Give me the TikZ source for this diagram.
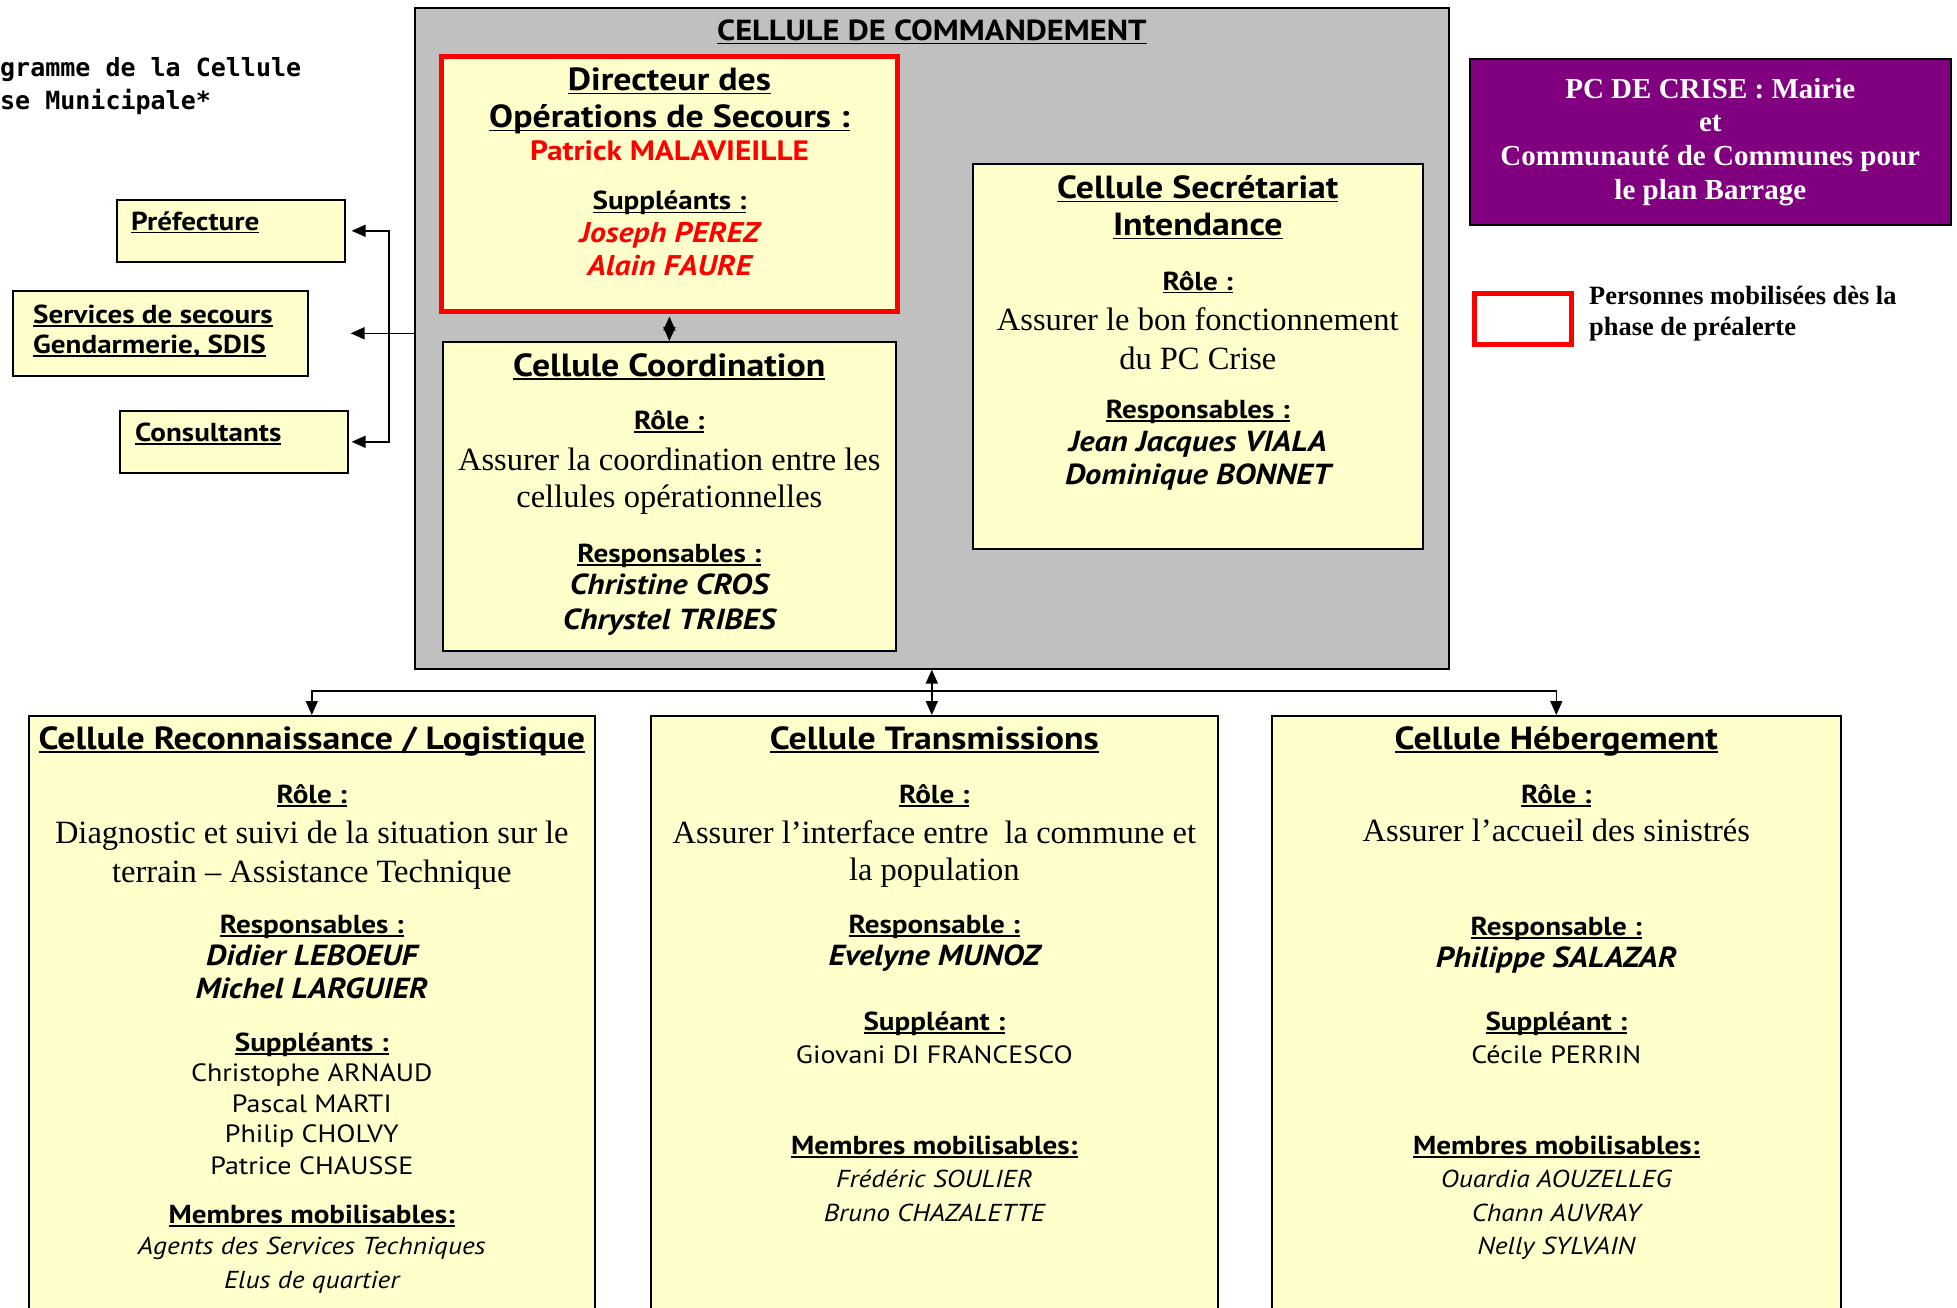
\documentclass[tikz,border=0pt]{standalone}
\usepackage{fontspec}
\setmainfont{Liberation Serif}
\newfontfamily\gill{PT Sans}[FakeStretch=1.12]
\newfontfamily\mono{DejaVu Sans Mono}
\usepackage{xcolor}
\usetikzlibrary{arrows.meta, positioning, calc}
\definecolor{cellyellow}{HTML}{FFFFCC}
\definecolor{cmdgray}{HTML}{C0C0C0}
\definecolor{pcpurple}{HTML}{800080}
\definecolor{dosred}{HTML}{FF0000}
% underline close to the baseline, like the original
\newcommand\ul[1]{\setbox0=\hbox{#1}\rlap{\rule[-3.5pt]{\wd0}{1.9pt}}\box0}
\newcommand\cmdttl[1]{{\gill\bfseries\fontsize{29}{34}\selectfont\ul{#1}}}
\newcommand\ttl[1]{{\gill\bfseries\fontsize{32}{36}\selectfont\ul{#1}}}
\newcommand\hd[1]{{\gill\bfseries\fontsize{26}{30}\selectfont\ul{#1}}}
\newcommand\nm[1]{{\gill\bfseries\itshape\fontsize{29}{32}\selectfont #1}}
\newcommand\pl[1]{{\gill\fontsize{25}{28}\selectfont #1}}
\newcommand\itl[1]{{\gill\itshape\fontsize{24.5}{28}\selectfont #1}}
\newcommand\rl[1]{{\fontsize{32.5}{36}\selectfont #1}}
\newcommand\rd[1]{{\gill\bfseries\fontsize{28}{32}\selectfont\color{dosred}#1}}
\newcommand\rdi[1]{{\gill\bfseries\itshape\fontsize{28.5}{32}\selectfont\color{dosred}#1}}
\begin{document}
\begin{tikzpicture}[x=1pt, y=-1pt,
    box/.style={draw=black, line width=1.6pt, fill=cellyellow, inner sep=0pt, anchor=north west},
    ln/.style={anchor=base, inner sep=0pt},
    arr/.style={-{Triangle[length=14pt,width=12pt]}, line width=1.6pt},
    both/.style={{Triangle[length=14pt,width=12pt]}-{Triangle[length=14pt,width=12pt]}, line width=1.6pt}]
  \useasboundingbox (0,0) rectangle (1957,1308);
  % Title, cut at the left edge
  \node[anchor=base west, inner sep=0pt, font=\mono\bfseries\fontsize{25}{30}\selectfont] (doc1) at (0,77) {gramme de la Cellule};
  \node[anchor=base west, inner sep=0pt, font=\mono\bfseries\fontsize{25}{30}\selectfont] (doc2) at (0,110) {se Municipale*};
  % Cellule de commandement
  \node[box, fill=cmdgray, minimum width=1034, minimum height=661] (cmd) at (414,7) {};
  \node[ln] (cmd-t) at (cmd.north |- 0,41) {\cmdttl{CELLULE DE COMMANDEMENT}};
  % DOS
  \node[box, draw=dosred, line width=5pt, minimum width=456, minimum height=255] (dos) at (439,54) {};
  \foreach \y/\t [count=\i] in {91/{\ttl{Directeur des}}, 128/{\ttl{Opérations de Secours :}},
      161/{\rd{Patrick MALAVIEILLE}}, 210/{\hd{Suppléants :}}, 243/{\rdi{Joseph PEREZ}}, 276/{\rdi{Alain FAURE}}}
    \node[ln] (dos-\i) at (dos.north |- 0,\y) {\t};
  % Coordination
  \node[box, minimum width=453, minimum height=309] (coord) at (442,341) {};
  \foreach \y/\t [count=\i] in {376/{\ttl{Cellule Coordination}}, 429/{\hd{Rôle :}},
      470/{\rl{Assurer la coordination entre les}}, 507/{\rl{cellules opérationnelles}},
      562/{\hd{Responsables :}}, 594/{\nm{Christine CROS}}, 629/{\nm{Chrystel TRIBES}}}
    \node[ln] (coord-\i) at (coord.north |- 0,\y) {\t};
  % Secretariat
  \node[box, minimum width=450, minimum height=385] (secr) at (972,163) {};
  \foreach \y/\t [count=\i] in {199/{\ttl{Cellule Secrétariat}}, 236/{\ttl{Intendance}}, 290/{\hd{Rôle :}},
      330/{\rl{Assurer le bon fonctionnement}}, 369/{\rl{du PC Crise}},
      418/{\hd{Responsables :}}, 451/{\nm{Jean Jacques VIALA}}, 484/{\nm{Dominique BONNET}}}
    \node[ln] (secr-\i) at (secr.north |- 0,\y) {\t};
  % PC de crise and legend
  \node[box, fill=pcpurple, minimum width=481, minimum height=166] (pc) at (1469,58) {};
  \node[align=center, text=white, font=\bfseries\fontsize{29}{33.7}\selectfont] (pc-t) at (pc.center)
    {PC DE CRISE : Mairie\\et\\Communauté de Communes pour\\le plan Barrage};
  \node[box, draw=dosred, line width=5pt, fill=white, minimum width=97, minimum height=51] (leg) at (1472,291) {};
  \node[anchor=base west, inner sep=0pt, font=\bfseries\fontsize{26.4}{30}\selectfont] (leg-1) at (1589,304) {Personnes mobilisées dès la};
  \node[anchor=base west, inner sep=0pt, font=\bfseries\fontsize{26.4}{30}\selectfont] (leg-2) at (1589,335) {phase de préalerte};
  % Outside services
  \node[box, minimum width=228, minimum height=62] (pref) at (116,199) {};
  \node[anchor=base west, inner sep=0pt] (pref-t) at (131,230) {\hd{Préfecture}};
  \node[box, minimum width=295, minimum height=85] (svc) at (12,290) {};
  \node[anchor=base west, inner sep=0pt] (svc-1) at (33,323) {\hd{Services de secours}};
  \node[anchor=base west, inner sep=0pt] (svc-2) at (33,353) {\hd{Gendarmerie, SDIS}};
  \node[box, minimum width=228, minimum height=62] (cons) at (119,410) {};
  \node[anchor=base west, inner sep=0pt] (cons-t) at (135,441) {\hd{Consultants}};
  \coordinate (bus) at (389,333);
  \draw[arr, shorten >=42pt] (cmd.west |- svc.east) -- (svc.east);
  \draw[both, shorten <=6pt, shorten >=3pt] (pref.east) -- (bus |- pref.east) -- (bus |- cons.east) -- (cons.east);
  \draw[both, shorten <=2.5pt] (dos.south) -- (coord.north);
  % Operational cells
  \node[box, minimum width=566, minimum height=640] (rec) at (28,715) {};
  \node[box, minimum width=567, minimum height=640] (trans) at (650,715) {};
  \node[box, minimum width=569, minimum height=640] (heb) at (1271,715) {};
  \draw[both] (cmd.south) -- (cmd.south |- trans.north);
  \coordinate (split) at (cmd.south |- 0,691);
  \draw[arr] (split) -| (rec.north);
  \draw[arr] (split) -| (heb.north);
  \foreach \y/\t [count=\i] in {749/{\ttl{Cellule Reconnaissance / Logistique}}, 803/{\hd{Rôle :}},
      843/{\rl{Diagnostic et suivi de la situation sur le}}, 882/{\rl{terrain – Assistance Technique}},
      933/{\hd{Responsables :}}, 965/{\nm{Didier LEBOEUF}}, 998/{\nm{Michel LARGUIER}},
      1051/{\hd{Suppléants :}}, 1081/{\pl{Christophe ARNAUD}}, 1112/{\pl{Pascal MARTI}},
      1142/{\pl{Philip CHOLVY}}, 1174/{\pl{Patrice CHAUSSE}}, 1223/{\hd{Membres mobilisables:}},
      1254/{\itl{Agents des Services Techniques}}, 1288/{\itl{Elus de quartier}}}
    \node[ln] (rec-\i) at (rec.north |- 0,\y) {\t};
  \foreach \y/\t [count=\i] in {749/{\ttl{Cellule Transmissions}}, 803/{\hd{Rôle :}},
      843/{\rl{Assurer l’interface entre\ \ la commune et}}, 880/{\rl{la population}},
      933/{\hd{Responsable :}}, 965/{\nm{Evelyne MUNOZ}}, 1030/{\hd{Suppléant :}},
      1063/{\pl{Giovani DI FRANCESCO}}, 1154/{\hd{Membres mobilisables:}},
      1187/{\itl{Frédéric SOULIER}}, 1221/{\itl{Bruno CHAZALETTE}}}
    \node[ln] (trans-\i) at (trans.north |- 0,\y) {\t};
  \foreach \y/\t [count=\i] in {749/{\ttl{Cellule Hébergement}}, 803/{\hd{Rôle :}},
      841/{\rl{Assurer l’accueil des sinistrés}}, 935/{\hd{Responsable :}}, 967/{\nm{Philippe SALAZAR}},
      1030/{\hd{Suppléant :}}, 1063/{\pl{Cécile PERRIN}}, 1154/{\hd{Membres mobilisables:}},
      1187/{\itl{Ouardia AOUZELLEG}}, 1221/{\itl{Chann AUVRAY}}, 1254/{\itl{Nelly SYLVAIN}}}
    \node[ln] (heb-\i) at (heb.north |- 0,\y) {\t};
\end{tikzpicture}
\end{document}
